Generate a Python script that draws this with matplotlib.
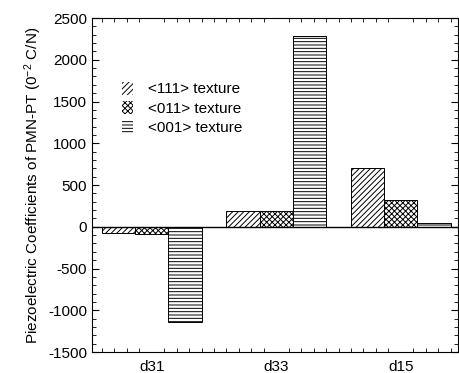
import matplotlib
matplotlib.use("Agg")
import matplotlib.pyplot as plt
import numpy as np
from matplotlib.ticker import MultipleLocator, FixedLocator
from matplotlib.patches import Patch

plt.rcParams['font.family'] = ['Liberation Sans', 'DejaVu Sans']
plt.rcParams['mathtext.fontset'] = 'custom'
plt.rcParams['mathtext.rm'] = 'Liberation Sans'
plt.rcParams['mathtext.it'] = 'Liberation Sans'
plt.rcParams['hatch.linewidth'] = 0.7
plt.rcParams['axes.unicode_minus'] = False

categories = ["d31", "d33", "d15"]
series_names = ["<111> texture", "<011> texture", "<001> texture"]
tex111 = [-80, 190, 700]
tex011 = [-90, 190, 320]
tex001 = [-1140, 2280, 50]
hatches = ["//////", "xxxxxx", "-----"]

fig = plt.figure(figsize=(4.59, 3.73), dpi=100)
ax = fig.add_axes([0.2004, 0.0563, 0.7976, 0.8954])

x = np.arange(len(categories))
w = 0.268
for i, (vals, h) in enumerate(zip([tex111, tex011, tex001], hatches)):
    ax.bar(x + (i - 1) * w, vals, w, facecolor="white", edgecolor="black",
           hatch=h, linewidth=0.7)

ax.axhline(0, color="black", linewidth=1.0)
ax.set_xlim(-0.48, 2.46)
ax.set_ylim(-1500, 2500)
ax.yaxis.set_major_locator(MultipleLocator(500))
ax.yaxis.set_minor_locator(MultipleLocator(100))
ax.xaxis.set_major_locator(FixedLocator(x))
ax.xaxis.set_minor_locator(MultipleLocator(0.1))
ax.set_xticklabels(categories)
ax.tick_params(axis="both", which="both", direction="in", top=True, right=True, labelsize=11)
ax.tick_params(axis="x", which="major", length=0, pad=6)
ax.tick_params(axis="y", which="major", length=5)
ax.tick_params(which="minor", length=3)
for s in ax.spines.values():
    s.set_linewidth(0.8)

ax.set_ylabel("Piezoelectric Coefficients of PMN-PT (0$^{-2}$ C/N)", fontsize=11, labelpad=3)

handles = [Patch(facecolor="white", edgecolor="black", linewidth=0, hatch=h) for h in hatches]
leg = ax.legend(handles, series_names, loc="upper left", bbox_to_anchor=(0.045, 0.85),
                frameon=False, fontsize=11, handlelength=0.7, handleheight=0.9,
                handletextpad=1.0, labelspacing=0.3)

fig.savefig("out.png", dpi=100)
